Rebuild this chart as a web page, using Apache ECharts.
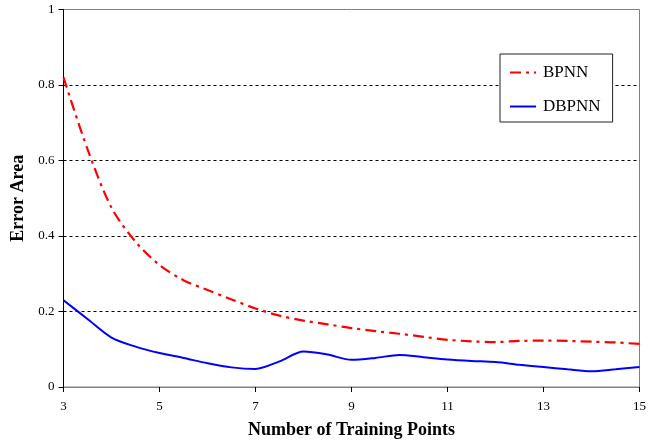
<!DOCTYPE html>
<html>
<head>
<meta charset="utf-8">
<script src="https://cdn.jsdelivr.net/npm/echarts@6/dist/echarts.min.js"></script>
<style>
  html, body { margin: 0; padding: 0; background: #fff; }
  #chart { width: 662px; height: 441px; }
</style>
</head>
<body>
<div id="chart"></div>
<script>
// Number of training points (x positions, half-step resolution)
const trainingPoints = [3, 3.5, 4, 4.5, 5, 5.5, 6, 6.5, 7, 7.5, 8, 8.5, 9, 9.5, 10,
  10.5, 11, 11.5, 12, 12.5, 13, 13.5, 14, 14.5, 15];

// Error area for the plain back-propagation network
const bpnnError = [0.82, 0.63, 0.475, 0.385, 0.323, 0.283, 0.257, 0.232, 0.208, 0.189,
  0.176, 0.166, 0.156, 0.148, 0.141, 0.133, 0.125, 0.121, 0.119, 0.122,
  0.123, 0.122, 0.120, 0.118, 0.114];

// Error area for the DBPNN variant
const dbpnnError = [0.230, 0.180, 0.131, 0.107, 0.090, 0.077, 0.063, 0.052, 0.048, 0.068,
  0.094, 0.086, 0.072, 0.077, 0.085, 0.079, 0.073, 0.069, 0.066, 0.059,
  0.053, 0.047, 0.042, 0.047, 0.053];

const yTicks = [0, 0.2, 0.4, 0.6, 0.8, 1];

const serif = '"Liberation Serif", "Times New Roman", serif';

const chart = echarts.init(document.getElementById('chart'), null, { renderer: 'canvas' });

chart.setOption({
  animation: false,
  backgroundColor: '#fff',
  grid: {
    left: 63.5, right: 22.5, top: 9.5, bottom: 54,
    outerBoundsMode: 'none',
    containLabel: false,
    show: true, borderColor: '#808080', borderWidth: 1, backgroundColor: 'transparent'
  },
  legend: {
    orient: 'vertical',
    left: 500, top: 54,
    width: 112,
    padding: [10, 12, 7, 9],
    itemGap: 17,
    itemWidth: 26,
    itemHeight: 14,
    borderColor: '#222',
    borderWidth: 1,
    backgroundColor: '#fff',
    itemStyle: { opacity: 0 },
    textStyle: { fontFamily: serif, fontSize: 17, color: '#000', padding: [0, 0, 0, 2] },
    data: ['BPNN', 'DBPNN']
  },
  xAxis: {
    type: 'category',
    data: trainingPoints.map(String),
    boundaryGap: false,
    name: 'Number of Training Points',
    nameLocation: 'middle',
    nameGap: 34,
    nameTextStyle: { fontFamily: serif, fontSize: 18, fontWeight: 'bold', color: '#000' },
    axisLine: { lineStyle: { color: '#808080', width: 1 } },
    axisTick: { interval: 3, length: 5, lineStyle: { color: '#000' } },
    axisLabel: { interval: 3, margin: 13, fontFamily: serif, fontSize: 13, color: '#000' },
    splitLine: { show: false }
  },
  yAxis: {
    type: 'value',
    min: 0, max: 1, interval: 0.2,
    name: 'Error Area',
    nameLocation: 'middle',
    nameGap: 33,
    nameTextStyle: { fontFamily: serif, fontSize: 18, fontWeight: 'bold', color: '#000' },
    axisLine: { show: true, lineStyle: { color: '#000', width: 1 } },
    axisTick: { show: true, length: 5, lineStyle: { color: '#000' } },
    axisLabel: {
      margin: 9, fontFamily: serif, fontSize: 13, color: '#000',
      formatter: v => {
        const t = yTicks.find(k => Math.abs(k - v) < 1e-9);
        return t === undefined ? '' : String(t);
      }
    },
    splitLine: {
      show: true, showMinLine: false, showMaxLine: false,
      lineStyle: { color: '#000', type: [3, 3], width: 1 }
    }
  },
  series: [
    {
      name: 'BPNN',
      type: 'line',
      data: bpnnError,
      smooth: 0.3,
      symbol: 'none',
      color: '#ff0000',
      lineStyle: { color: '#ff0000', width: 2.2, type: [11, 5, 3, 5] },
      z: 3
    },
    {
      name: 'DBPNN',
      type: 'line',
      data: dbpnnError,
      smooth: 0.3,
      symbol: 'none',
      color: '#0000ff',
      lineStyle: { color: '#0000ff', width: 2, type: 'solid' },
      z: 4
    }
  ]
});
</script>
</body>
</html>
